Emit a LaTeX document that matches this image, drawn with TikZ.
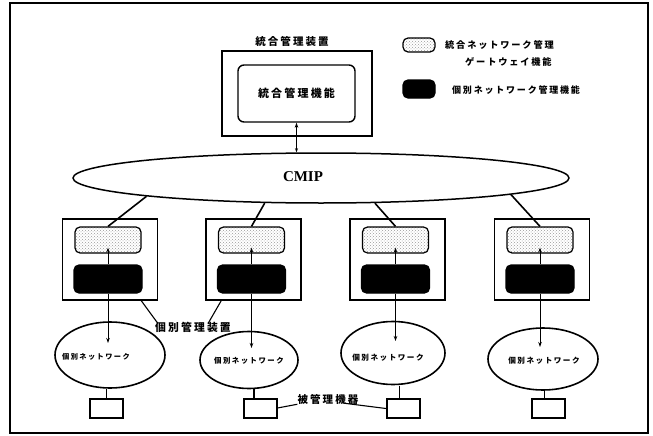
\documentclass[tikz,border=0pt]{standalone}
\usepackage{fontspec}
\setmainfont{Liberation Serif}
\newfontfamily\jp[LetterSpace=20]{Noto Sans CJK JP}
\usetikzlibrary{arrows.meta,shapes.geometric,patterns,calc}
\begin{document}
\begin{tikzpicture}[x=1pt,y=-1pt,
  frame/.style={line width=1.2pt},
  mgrbox/.style={draw,line width=1.8pt,minimum width=95pt,minimum height=81pt,inner sep=0pt},
  gwbox/.style={draw,line width=1.2pt,rounded corners=5pt,minimum width=66pt,minimum height=26pt,inner sep=0pt,pattern=crosshatch dots,pattern color=black!40},
  blkbox/.style={draw,line width=1.2pt,rounded corners=5pt,minimum width=68pt,minimum height=28pt,inner sep=0pt,fill=black},
  netell/.style={draw,ellipse,line width=1.6pt,inner sep=0pt},
  devbox/.style={draw,line width=2pt,minimum width=33pt,minimum height=19pt,inner sep=0pt},
  jtxt/.style={font=\jp\bfseries\fontsize{#1}{#1}\selectfont,inner sep=1pt},
  conn/.style={line width=1.6pt},
  arr/.style={line width=1pt,-{Stealth[length=5pt,width=3.5pt]}},
  thin/.style={line width=1.1pt}
]
\useasboundingbox (0,0) rectangle (653,436);
\draw[frame] (10,3) rectangle (648,433);

% top integrated manager
\node[jtxt=10.5] (toptitle) at (292,41) {統合管理装置};
\node[draw,line width=1.8pt,minimum width=150pt,minimum height=85pt,inner sep=0pt] (topbox) at (297,93.5) {};
\node[draw,line width=1.4pt,rounded corners=6pt,minimum width=117pt,minimum height=57pt,inner sep=0pt,
      font=\jp\bfseries\fontsize{11}{11}\selectfont] (topfn) at (296.5,93.5) {統合管理機能};

% legend
\node[gwbox,minimum width=32pt,minimum height=14pt] (leg1) at (419,45) {};
\node[jtxt=9.2,anchor=west] (leg1a) at (444,45) {統合ネットワーク管理};
\node[jtxt=9.2,anchor=west] (leg1b) at (464,62) {ゲートウェイ機能};
\node[blkbox,minimum width=32pt,minimum height=18pt] (leg2) at (419,89) {};
\node[jtxt=9,anchor=west] (leg2a) at (451,90) {個別ネットワーク管理機能};

% CMIP
\node[draw,ellipse,line width=1.5pt,minimum width=496pt,minimum height=50pt,inner sep=0pt] (cmip) at (321,178) {};
\node[font=\bfseries\fontsize{15}{15}\selectfont] (cmiptxt) at (303,177) {CMIP};
\draw[line width=1pt,{Stealth[length=5pt,width=3.5pt]}-{Stealth[length=4pt,width=3pt]}] (topfn.south) -- (topfn.south |- cmip.north);

% lower managers
\foreach \i/\x/\ang in {1/110/186.5, 2/253.5/204.8, 3/397.5/335.4, 4/542/355.2}{
  \node[mgrbox] (mb\i) at (\x,259.5) {};
  \node[gwbox] (gw\i) at ($(mb\i.center)+(-2,-19.5)$) {};
  \node[blkbox] (bk\i) at ($(mb\i.center)+(-2,19.5)$) {};
  \draw[conn] (cmip.\ang) -- (gw\i.north);
  \draw[arr] (bk\i.north) -- ($(gw\i.south)+(0,-6)$);
}

% networks
\node[netell,minimum width=110pt,minimum height=66pt] (net1) at (110,355) {};
\node[netell,minimum width=98pt,minimum height=57pt] (net2) at (249,360) {};
\node[netell,minimum width=104pt,minimum height=63pt] (net3) at (393,353) {};
\node[netell,minimum width=110pt,minimum height=62pt] (net4) at (543,359) {};
\node[jtxt=7.2] (nt1) at (96,357) {個別ネットワーク};
\node[jtxt=7.4] (nt2) at (249,361) {個別ネットワーク};
\node[jtxt=7.6] (nt3) at (388,358) {個別ネットワーク};
\node[jtxt=7.6] (nt4) at (544,361) {個別ネットワーク};
\foreach \i in {1,2,3,4}{
  \draw[arr] (bk\i.south) -- ($(net\i.center -| bk\i.south)+(0,-12)$);
}

% managed devices
\node[devbox] (dv1) at (106.5,408) {};
\node[devbox] (dv2) at (260,408) {};
\node[devbox] (dv3) at (403.5,408.5) {};
\node[devbox] (dv4) at (548.5,408.5) {};
\draw[thin] (dv1.north) -- (dv1.north |- net1.south);
\draw[thin] ($(dv2.north)+(-6,0)$) -- ($(dv2.north |- net2.south)+(-6,0)$);
\draw[thin] ($(dv3.north)+(-4,0)$) -- ($(dv3.north |- net3.south)+(-4,1)$);
\draw[thin] ($(dv4.north)+(-4,0)$) -- ($(dv4.north |- net4.south)+(-4,0)$);

% labels
\node[jtxt=10.8] (lbl1) at (193,327) {個別管理装置};
\draw[thin] ($(mb1.south east)+(-17,0)$) -- ($(lbl1.north west)+(4,3)$);
\draw[thin] ($(lbl1.north west)+(54,3)$) -- ($(mb2.south west)+(16,0)$);
\node[jtxt=10.5] (lbl2) at (328,399) {被管理機器};
\draw[thin] ($(lbl2.south west)+(1,-1)$) -- (dv2.east);
\draw[thin] ($(lbl2.south west)+(48,-2)$) -- (dv3.west);
\end{tikzpicture}
\end{document}
